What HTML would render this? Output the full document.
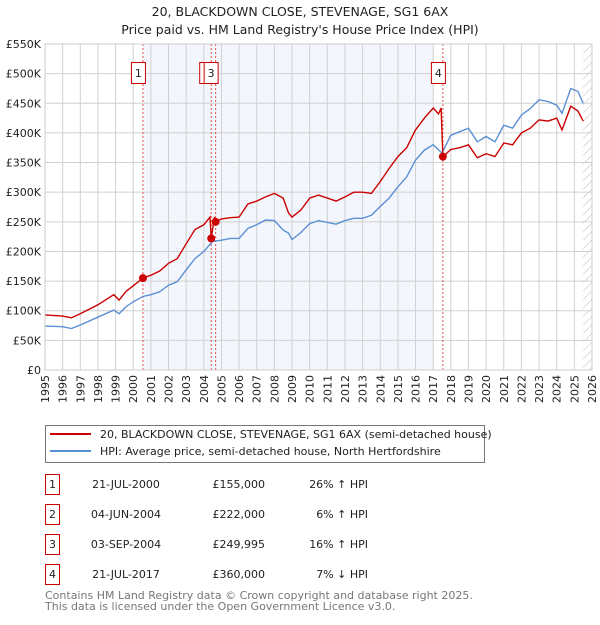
<!DOCTYPE html>
<html><head><meta charset="utf-8"><style>
body{margin:0;background:#fff;font-family:"Liberation Sans","DejaVu Sans",sans-serif;}
svg text{font-family:"DejaVu Sans","Liberation Sans",sans-serif;}
</style></head><body>
<svg id="c" width="600" height="620" xmlns="http://www.w3.org/2000/svg">
<defs><pattern id="hatch" width="6" height="6" patternUnits="userSpaceOnUse" patternTransform="rotate(45)"><line x1="0" y1="0" x2="0" y2="6" stroke="#bbb" stroke-width="1"/></pattern></defs>
<text x="300" y="16" text-anchor="middle" font-size="12.5" fill="#222">20, BLACKDOWN CLOSE, STEVENAGE, SG1 6AX</text>
<text x="300" y="34" text-anchor="middle" font-size="12.5" fill="#222">Price paid vs. HM Land Registry's House Price Index (HPI)</text>
<g id="plot"></g>
<g>
<rect x="45.5" y="425.5" width="439" height="37" fill="#fff" stroke="#777"/>
<line x1="50" y1="434" x2="91" y2="434" stroke="#cc0000" stroke-width="2"/>
<text x="100" y="438" font-size="11" fill="#222">20, BLACKDOWN CLOSE, STEVENAGE, SG1 6AX (semi-detached house)</text>
<line x1="50" y1="451" x2="91" y2="451" stroke="#5b8fd4" stroke-width="2"/>
<text x="100" y="455" font-size="11" fill="#222">HPI: Average price, semi-detached house, North Hertfordshire</text>
</g>
<g id="table" font-size="11" fill="#222"></g>
<text x="45" y="599" font-size="11" fill="#777">Contains HM Land Registry data © Crown copyright and database right 2025.</text>
<text x="45" y="610" font-size="11" fill="#777">This data is licensed under the Open Government Licence v3.0.</text>
</svg>
<script>
const hpiYears=[1995,1996,1996.5,1997,1998,1998.9,1999.2,1999.6,2000,2000.55,2001,2001.5,2002,2002.5,2003,2003.5,2004,2004.5,2005,2005.5,2006,2006.5,2007,2007.5,2008,2008.5,2008.8,2009,2009.5,2010,2010.5,2011,2011.5,2012,2012.5,2013,2013.5,2014,2014.5,2015,2015.5,2016,2016.5,2017,2017.5,2018,2018.5,2019,2019.5,2020,2020.5,2021,2021.5,2022,2022.5,2023,2023.5,2024,2024.3,2024.8,2025.2,2025.5];
const hpiValues=[74,73,70,76,89,101,95,107,115,124,127,132,143,149,169,188,200,217,219,222,222,239,245,253,252,236,231,220,232,247,252,249,246,252,256,256,261,276,290,309,326,354,371,380,366,396,402,408,385,394,385,413,408,430,441,456,453,447,433,475,470,450];
const redYears=[1995,1996,1996.5,1997,1998,1998.9,1999.2,1999.6,2000,2000.55,2001,2001.5,2002,2002.5,2003,2003.5,2004,2004.35,2004.42,2004.6,2004.67,2005,2005.5,2006,2006.5,2007,2007.5,2008,2008.5,2008.8,2009,2009.5,2010,2010.5,2011,2011.5,2012,2012.5,2013,2013.5,2014,2014.5,2015,2015.5,2016,2016.5,2017,2017.3,2017.45,2017.55,2018,2018.5,2019,2019.5,2020,2020.5,2021,2021.5,2022,2022.5,2023,2023.5,2024,2024.3,2024.8,2025.2,2025.5];
const redValues=[93,91,88,95,110,127,118,133,142,155,160,167,180,188,213,237,245,258,222,258,250,255,257,258,280,285,292,298,290,265,258,270,290,295,290,285,292,300,300,298,318,340,360,375,405,425,442,432,442,360,372,375,380,358,365,360,383,380,400,408,422,420,425,405,445,437,420];
const saleLabels=["1","2","3","4"];
const saleYears=[2000.55,2004.42,2004.67,2017.55];
const saleValues=[155,222,249.995,360];
const saleDates=["21-JUL-2000","04-JUN-2004","03-SEP-2004","21-JUL-2017"];
const salePrices=["£155,000","£222,000","£249,995","£360,000"];
const saleDiffs=["26% ↑ HPI","6% ↑ HPI","16% ↑ HPI","7% ↓ HPI"];
const yTicks=[0,50,100,150,200,250,300,350,400,450,500,550];
const yTickLabels=["£0","£50K","£100K","£150K","£200K","£250K","£300K","£350K","£400K","£450K","£500K","£550K"];

const NS="http://www.w3.org/2000/svg";
const X0=45,X1=592,Y0=370,Y1=44;
const xs=y=>X0+(y-1995)/(2026-1995)*(X1-X0);
const ys=v=>Y0-v/550*(Y0-Y1);
const plot=document.getElementById('plot');
function mk(t,a,p){const e=document.createElementNS(NS,t);for(const k in a)e.setAttribute(k,a[k]);(p||plot).appendChild(e);return e;}
let sh=mk('rect',{x:xs(2000.55),y:Y1,width:xs(2017.0)-xs(2000.55),height:Y0-Y1,fill:'#f3f7fd'});


let ht=mk('rect',{x:xs(2025.5),y:Y1,width:X1-xs(2025.5),height:Y0-Y1,fill:'url(#hatch)'});


for(let yr=1995;yr<=2026;yr++){
 let g=mk('line',{x1:xs(yr),x2:xs(yr),y1:Y1,y2:Y0,stroke:'#d0d0d0','stroke-width':1});
 
 
 let t=mk('text',{x:0,y:0,transform:`translate(${xs(yr)+4},${Y0+33}) rotate(-90)`,'font-size':11,fill:'#222'});
 t.textContent=yr;
 
 
}
yTicks.forEach((v,i)=>{
 let g=mk('line',{x1:X0,x2:X1,y1:ys(v),y2:ys(v),stroke:'#d0d0d0','stroke-width':1});
 
 
 let t=mk('text',{x:X0-4,y:ys(v)+4,'text-anchor':'end','font-size':11,fill:'#222'});
 t.textContent=yTickLabels[i];
 
 
});
saleYears.forEach((y,i)=>{
 let l=mk('line',{x1:xs(y),x2:xs(y),y1:Y1,y2:Y0,stroke:'#e05050','stroke-width':1,'stroke-dasharray':'2,2'});
 
 
});
function path(xa,va,col,name){
 let d=xa.map((x,i)=>(i?'L':'M')+xs(x).toFixed(1)+','+ys(va[i]).toFixed(1)).join('');
 let p=mk('path',{d:d,fill:'none',stroke:col,'stroke-width':1.4});
 
 
}
path(hpiYears,hpiValues,'#5b8fd4','hpi-line');
path(redYears,redValues,'#cc0000','price-paid-line');
saleYears.forEach((y,i)=>{
 let c=mk('circle',{cx:xs(y),cy:ys(saleValues[i]),r:4,fill:'#cc0000'});
 
 
 let g=mk('g',{});
 
 
 mk('rect',{x:xs(y)-11.5,y:62.5,width:14,height:21,fill:'#fff',stroke:'#cc0000'},g);
 let t=mk('text',{x:xs(y)-4.5,y:77,'text-anchor':'middle','font-size':11,fill:'#222'},g);
 t.textContent=saleLabels[i];
});
mk('rect',{x:X0,y:Y1,width:X1-X0,height:Y0-Y1,fill:'none',stroke:'#ccc'});
const tb=document.getElementById('table');
saleLabels.forEach((s,i)=>{
 const y=483+i*30;
 let g=mk('g',{},tb);
 
 
 mk('rect',{x:45.5,y:y-8.5,width:14,height:20,fill:'#fff',stroke:'#cc0000'},g);
 let t0=mk('text',{x:52.5,y:y+5,'text-anchor':'middle'},g);t0.textContent=s;
 let t1=mk('text',{x:126,y:y+5,'text-anchor':'middle'},g);t1.textContent=saleDates[i];
 let t2=mk('text',{x:265,y:y+5,'text-anchor':'end'},g);t2.textContent=salePrices[i];
 let t3=mk('text',{x:368,y:y+5,'text-anchor':'end'},g);t3.textContent=saleDiffs[i];
});
</script>
</body></html>
